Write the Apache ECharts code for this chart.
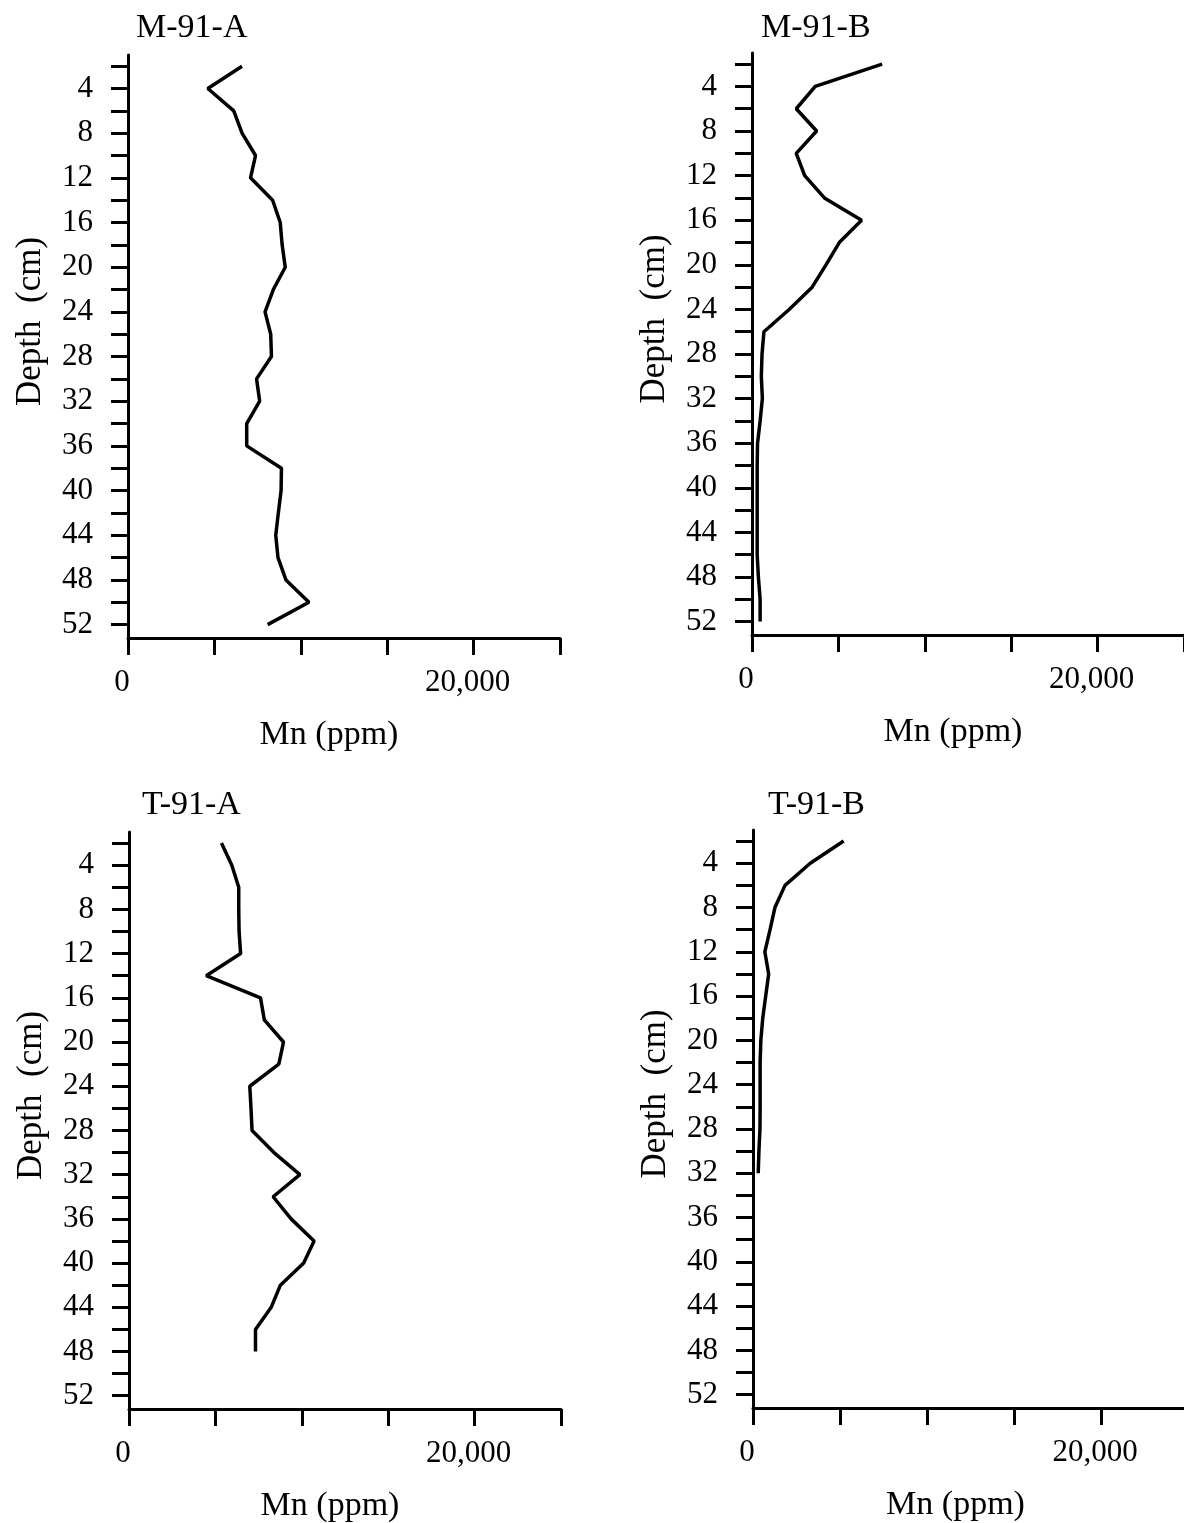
<!DOCTYPE html>
<html>
<head>
<meta charset="utf-8">
<script src="https://cdn.jsdelivr.net/npm/echarts@6/dist/echarts.min.js"></script>
<style>
  html, body { margin: 0; padding: 0; background: #fff; }
  #main { width: 1184px; height: 1523px; }
</style>
</head>
<body>
<div id="main"></div>
<script>
// -- data: sample depth (cm) and Mn (ppm) for each core --
let depthM91A = [2, 4, 6, 8, 10, 12, 14, 16, 18, 20, 22, 24, 26, 28, 30, 32, 34, 36, 38, 40, 42, 44, 46, 48, 50, 52];
let mnM91A = [6600, 4620, 6120, 6600, 7380, 7090, 8370, 8810, 8920, 9100, 8410, 7930, 8260, 8300, 7440, 7620,
              6870, 6870, 8880, 8860, 8700, 8550, 8680, 9140, 10470, 8080];

let depthM91B = [2, 4, 6, 8, 10, 12, 14, 16, 18, 20, 22, 24, 26, 28, 30, 32, 34, 36, 38, 40, 42, 44, 46, 48, 50, 52];
let mnM91B = [7530, 3660, 2560, 3740, 2560, 3050, 4190, 6340, 5050, 4280, 3480, 2150, 690, 580, 540, 600,
              470, 320, 300, 300, 300, 300, 300, 370, 470, 470];

let depthT91A = [2, 4, 6, 8, 10, 12, 14, 16, 18, 20, 22, 24, 26, 28, 30, 32, 34, 36, 38, 40, 42, 44, 46, 48];
let mnT91A = [5350, 5950, 6350, 6350, 6370, 6460, 4470, 7610, 7830, 8940, 8670, 6990, 7060, 7120, 8390, 9890,
              8340, 9380, 10710, 10110, 8760, 8230, 7320, 7320];

let depthT91B = [2, 4, 6, 8, 10, 12, 14, 16, 18, 20, 22, 24, 26, 28, 30, 32];
let mnT91B = [5210, 3290, 1840, 1260, 980, 680, 900, 730, 560, 450, 410, 410, 410, 400, 340, 300];

let panelTitles = ['M-91-A', 'M-91-B', 'T-91-A', 'T-91-B'];
let depthTicks = [2, 4, 6, 8, 10, 12, 14, 16, 18, 20, 22, 24, 26, 28, 30, 32, 34, 36, 38, 40, 42, 44, 46, 48, 50, 52];
let depthLabels = [4, 8, 12, 16, 20, 24, 28, 32, 36, 40, 44, 48, 52];
let mnLabels = [0, 20000];

// -- layout --
let font = 'Liberation Serif';
let panels = [
  {left: 128, top: 55, width: 432, height: 583, titleLeft: 136, titleTop: 11},
  {left: 752, top: 53, width: 432, height: 582, titleLeft: 761, titleTop: 11},
  {left: 129, top: 832, width: 432, height: 577, titleLeft: 142, titleTop: 788},
  {left: 753, top: 830, width: 435, height: 578, titleLeft: 768, titleTop: 788}
];
let profiles = [
  [depthM91A, mnM91A],
  [depthM91B, mnM91B],
  [depthT91A, mnT91A],
  [depthT91B, mnT91B]
];

let black = '#000';

function fmtMn(v) {
  return v.toLocaleString('en-US');
}

let option = {
  animation: false,
  backgroundColor: '#fff',
  title: panels.map((p, i) => ({
    text: panelTitles[i],
    left: p.titleLeft,
    top: p.titleTop,
    padding: 0,
    textStyle: {fontFamily: font, fontSize: 34, fontWeight: 'normal', color: black}
  })),
  grid: panels.map(p => ({
    left: p.left, top: p.top, width: p.width, height: p.height,
    outerBoundsMode: 'none'
  })),
  xAxis: panels.map((p, i) => ({
    gridIndex: i,
    type: 'value',
    min: 0,
    max: 25000,
    interval: 5000,
    name: 'Mn (ppm)',
    nameLocation: 'middle',
    nameGap: 80,
    nameTextStyle: {fontFamily: font, fontSize: 34, color: black, padding: [0, 30, 0, 0]},
    axisLine: {show: true, onZero: false, lineStyle: {color: black, width: 3}},
    axisTick: {show: true, inside: false, length: 17, lineStyle: {color: black, width: 3}},
    axisLabel: {
      customValues: mnLabels,
      margin: 29,
      fontFamily: font, fontSize: 31, color: black,
      padding: [0, 12, 0, 0],
      formatter: fmtMn
    },
    splitLine: {show: false}
  })),
  yAxis: panels.map((p, i) => ({
    gridIndex: i,
    type: 'value',
    inverse: true,
    min: 1,
    max: 53.2,
    name: 'Depth  (cm)',
    nameLocation: 'middle',
    nameRotate: 90,
    nameGap: 80,
    nameTextStyle: {fontFamily: font, fontSize: 35, color: black, padding: [0, 0, 0, 50]},
    axisLine: {show: true, onZero: false, lineStyle: {color: black, width: 3}},
    axisTick: {show: true, inside: false, length: 17, customValues: depthTicks, lineStyle: {color: black, width: 3}},
    axisLabel: {
      customValues: depthLabels,
      margin: 35,
      fontFamily: font, fontSize: 31, color: black
    },
    splitLine: {show: false}
  })),
  series: profiles.map((pr, i) => ({
    type: 'line',
    xAxisIndex: i,
    yAxisIndex: i,
    symbol: 'none',
    lineStyle: {color: black, width: 3.5},
    data: pr[1].map((v, k) => [v, pr[0][k]])
  }))
};

let myChart = echarts.init(document.getElementById('main'));
myChart.setOption(option);
</script>
</body>
</html>
